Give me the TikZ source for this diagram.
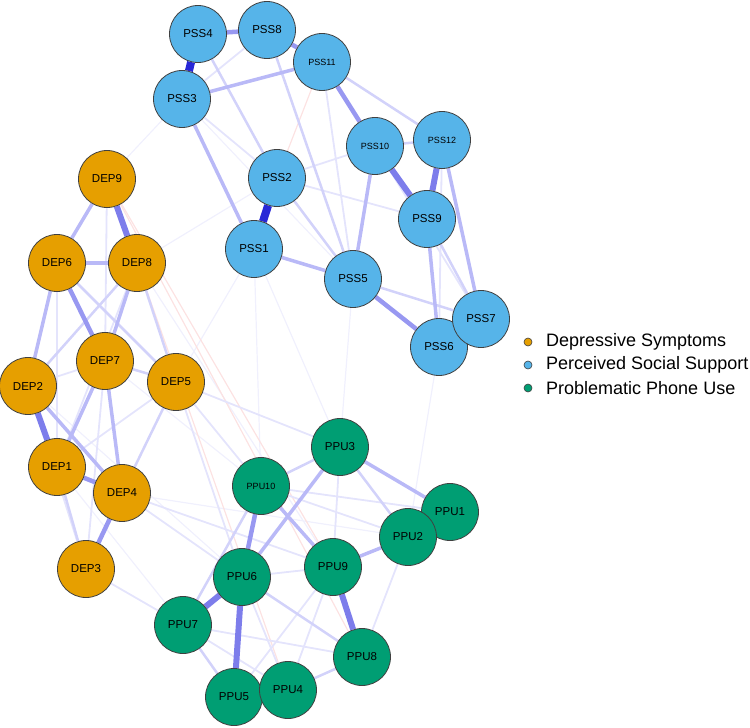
\documentclass[tikz,border=0pt]{standalone}
\usepackage{fontspec}
\setmainfont{Liberation Sans}
\usetikzlibrary{backgrounds}
\definecolor{deporange}{HTML}{E69F00}
\definecolor{pssblue}{HTML}{56B4E9}
\definecolor{ppugreen}{HTML}{009E73}
\definecolor{edgeA}{RGB}{40,40,215}
\definecolor{edgeB}{RGB}{125,125,235}
\definecolor{edgeC}{RGB}{152,152,241}
\definecolor{edgeD}{RGB}{185,185,247}
\definecolor{edgeE}{RGB}{210,210,250}
\definecolor{edgeF}{RGB}{228,228,252}
\definecolor{edgeG}{RGB}{240,240,253}
\definecolor{edgeneg}{RGB}{252,226,226}

\begin{document}
\begin{tikzpicture}[x=1pt,y=-1pt,
  item/.style={circle,draw=black!75,line width=0.8pt,minimum size=57pt,inner sep=0pt,font=\fontsize{11.5}{12}\selectfont},
  small/.style={font=\fontsize{9}{10}\selectfont},
  dep/.style={item,fill=deporange},
  pss/.style={item,fill=pssblue},
  ppu/.style={item,fill=ppugreen},
  wA/.style={edgeA,line width=8pt},
  wB/.style={edgeB,line width=6pt},
  wC/.style={edgeC,line width=4.5pt},
  wD/.style={edgeD,line width=3.5pt},
  wE/.style={edgeE,line width=2.5pt},
  wF/.style={edgeF,line width=1.8pt},
  wG/.style={edgeG,line width=1.2pt},
  wneg/.style={edgeneg,line width=1.2pt},
  dot/.style={circle,draw=black!75,line width=0.6pt,minimum size=8pt,inner sep=0pt},
  keytext/.style={anchor=west,inner sep=0pt,font=\fontsize{18}{20}\selectfont}]

\useasboundingbox (0,0) rectangle (750,728);

%% nodes
% perceived social support
\node [pss] (PSS4) at (198,34) {PSS4};
\node [pss] (PSS8) at (267,30) {PSS8};
\node [pss,small] (PSS11) at (322,62) {PSS11};
\node [pss] (PSS3) at (182,99) {PSS3};
\node [pss,small] (PSS10) at (375,146) {PSS10};
\node [pss,small] (PSS12) at (442,140) {PSS12};
\node [pss] (PSS2) at (277,178) {PSS2};
\node [pss] (PSS9) at (427,219) {PSS9};
\node [pss] (PSS1) at (254,249) {PSS1};
\node [pss] (PSS5) at (353,279) {PSS5};
\node [pss] (PSS6) at (439,347) {PSS6};
\node [pss] (PSS7) at (481,319) {PSS7};
% depressive symptoms
\node [dep] (DEP9) at (107,179) {DEP9};
\node [dep] (DEP6) at (57,263) {DEP6};
\node [dep] (DEP8) at (137,263) {DEP8};
\node [dep] (DEP7) at (105,361) {DEP7};
\node [dep] (DEP5) at (176,382) {DEP5};
\node [dep] (DEP2) at (28,386) {DEP2};
\node [dep] (DEP1) at (57,467) {DEP1};
\node [dep] (DEP4) at (122,493) {DEP4};
\node [dep] (DEP3) at (86,569) {DEP3};
% problematic phone use
\node [ppu] (PPU3) at (340,447) {PPU3};
\node [ppu,small] (PPU10) at (261,486) {PPU10};
\node [ppu] (PPU1) at (450,512) {PPU1};
\node [ppu] (PPU2) at (408,537) {PPU2};
\node [ppu] (PPU9) at (333,567) {PPU9};
\node [ppu] (PPU6) at (242,577) {PPU6};
\node [ppu] (PPU7) at (183,625) {PPU7};
\node [ppu] (PPU8) at (362,657) {PPU8};
\node [ppu] (PPU5) at (234,697) {PPU5};
\node [ppu] (PPU4) at (288,690) {PPU4};

%% edges
\begin{scope}[on background layer]
% weakest, between groups
\draw [wG] (PSS5) -- (PPU3);
\draw [wG] (PSS6) -- (PPU2);
\draw [wG] (PSS1) -- (PPU3);
\draw [wG] (PSS1) -- (DEP5);
\draw [wG] (PSS2) -- (DEP8);
\draw [wG] (PSS3) -- (DEP9);
\draw [wG] (PSS1) -- (PPU10);
\draw [wG] (DEP2) -- (PPU6);
\draw [wG] (DEP1) -- (PPU7);
\draw [wG] (DEP7) -- (PPU10);
\draw [wG] (DEP8) -- (PPU9);
\draw [wG] (DEP4) -- (PPU2);
\draw [wG] (PSS3) -- (PSS5);
\draw [wneg] (DEP9) -- (PPU9);
\draw [wneg] (DEP8) -- (PPU4);
\draw [wneg] (DEP9) -- (PPU8);
\draw [wneg] (PSS2) -- (PSS11);
% weak
\draw [wF] (DEP5) -- (PPU10);
\draw [wF] (DEP5) -- (PPU6);
\draw [wF] (DEP5) -- (PPU3);
\draw [wF] (DEP4) -- (PPU9);
\draw [wF] (DEP4) -- (PPU6);
\draw [wF] (DEP3) -- (PPU7);
\draw [wF] (PSS12) -- (PSS6);
\draw [wF] (PSS2) -- (PSS10);
\draw [wF] (PSS2) -- (PSS9);
\draw [wF] (PSS8) -- (PSS3);
\draw [wF] (PSS11) -- (PSS5);
\draw [wF] (PSS3) -- (PSS2);
\draw [wF] (PSS10) -- (PSS7);
\draw [wF] (DEP9) -- (DEP7);
\draw [wF] (DEP5) -- (DEP1);
\draw [wF] (DEP2) -- (DEP3);
\draw [wF] (DEP7) -- (DEP3);
\draw [wF] (DEP7) -- (DEP2);
\draw [wF] (DEP6) -- (DEP1);
\draw [wF] (DEP8) -- (DEP1);
\draw [wF] (PPU10) -- (PPU2);
\draw [wF] (PPU7) -- (PPU8);
\draw [wF] (PPU7) -- (PPU4);
\draw [wF] (PPU9) -- (PPU5);
\draw [wF] (PPU9) -- (PPU4);
\draw [wF] (PPU2) -- (PPU8);
\draw [wF] (PPU6) -- (PPU9);
\draw [wF] (PPU3) -- (PPU9);
\draw [wF] (PPU10) -- (PPU1);
\draw [wF] (PPU6) -- (PPU4);
% light
\draw [wE] (PSS11) -- (PSS12);
\draw [wE] (PSS10) -- (PSS12);
\draw [wE] (PSS4) -- (PSS2);
\draw [wE] (PSS8) -- (PSS5);
\draw [wE] (PSS2) -- (PSS5);
\draw [wE] (PSS5) -- (PSS7);
\draw [wE] (PSS9) -- (PSS7);
\draw [wE] (DEP8) -- (DEP5);
\draw [wE] (DEP6) -- (DEP5);
\draw [wE] (DEP8) -- (DEP2);
\draw [wE] (DEP5) -- (DEP4);
\draw [wE] (DEP1) -- (DEP3);
\draw [wE] (DEP7) -- (DEP5);
\draw [wE] (PPU10) -- (PPU7);
\draw [wE] (PPU3) -- (PPU2);
\draw [wE] (PPU10) -- (PPU3);
\draw [wE] (PPU7) -- (PPU5);
\draw [wE] (PPU4) -- (PPU8);
\draw [wE] (PPU6) -- (PPU8);
% medium
\draw [wD] (PSS3) -- (PSS11);
\draw [wD] (PSS3) -- (PSS1);
\draw [wD] (PSS10) -- (PSS5);
\draw [wD] (PSS9) -- (PSS6);
\draw [wD] (PSS12) -- (PSS7);
\draw [wD] (PSS1) -- (PSS5);
\draw [wD] (PSS6) -- (PSS7);
\draw [wD] (DEP9) -- (DEP6);
\draw [wD] (DEP6) -- (DEP8);
\draw [wD] (DEP8) -- (DEP7);
\draw [wD] (DEP6) -- (DEP2);
\draw [wD] (DEP2) -- (DEP4);
\draw [wD] (DEP7) -- (DEP1);
\draw [wD] (DEP7) -- (DEP4);
\draw [wD] (PPU3) -- (PPU6);
\draw [wD] (PPU10) -- (PPU9);
\draw [wD] (PPU3) -- (PPU1);
\draw [wD] (PPU9) -- (PPU2);
\draw [wD] (PPU5) -- (PPU4);
\draw [wD] (PPU1) -- (PPU2);
% strong
\draw [wC] (PSS4) -- (PSS8);
\draw [wC] (PSS8) -- (PSS11);
\draw [wC] (PSS11) -- (PSS10);
\draw [wC] (PSS5) -- (PSS6);
\draw [wC] (DEP6) -- (DEP7);
\draw [wC] (DEP1) -- (DEP4);
\draw [wC] (DEP4) -- (DEP3);
\draw [wC] (PPU10) -- (PPU6);
\draw [wB] (PSS10) -- (PSS9);
\draw [wB] (PSS12) -- (PSS9);
\draw [wB] (DEP9) -- (DEP8);
\draw [wB] (DEP2) -- (DEP1);
\draw [wB] (PPU6) -- (PPU7);
\draw [wB] (PPU6) -- (PPU5);
\draw [wB] (PPU9) -- (PPU8);
% strongest
\draw [wA] (PSS4) -- (PSS3);
\draw [wA] (PSS2) -- (PSS1);
\end{scope}

%% legend
\node [dot,fill=deporange] (keydep) at (528,342) {};
\node [dot,fill=pssblue] (keypss) at (528,365) {};
\node [dot,fill=ppugreen] (keyppu) at (528,388) {};
\node [keytext] (keydeptext) at (546,342) {Depressive Symptoms};
\node [keytext] (keypsstext) at (546,365) {Perceived Social Support};
\node [keytext] (keypputext) at (546,388) {Problematic Phone Use};

\end{tikzpicture}
\end{document}
